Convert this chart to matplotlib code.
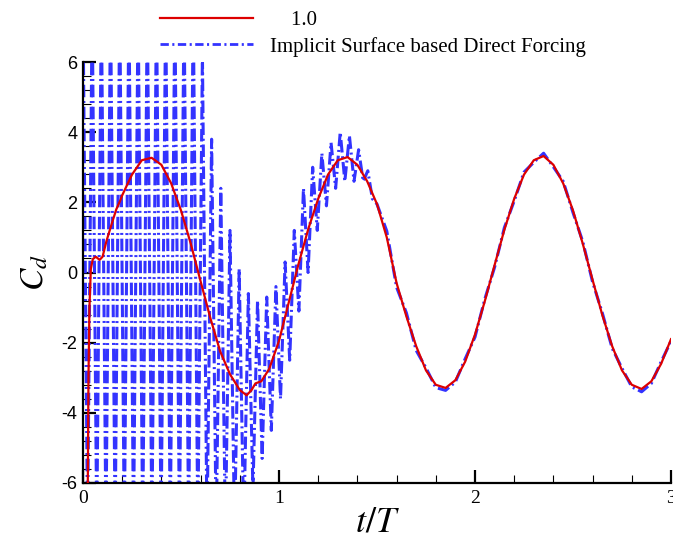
import numpy as np
import matplotlib
matplotlib.use("Agg")
import matplotlib.pyplot as plt
from matplotlib.lines import Line2D
from matplotlib.ticker import MultipleLocator

plt.rcParams['mathtext.fontset'] = 'stix'
plt.rcParams['lines.scale_dashes'] = False
plt.rcParams['axes.unicode_minus'] = False
plt.rcParams['path.simplify'] = False

# ---- data: reference curve "1.0" ----
red_t = [0.02, 0.028, 0.033, 0.04, 0.05, 0.065, 0.085, 0.10, 0.12, 0.15, 0.17, 0.19,
         0.20, 0.25, 0.30, 0.35, 0.40, 0.45, 0.50, 0.55, 0.60, 0.65, 0.70, 0.75, 0.80,
         0.835, 0.86, 0.88, 0.91, 0.95, 1.00, 1.05, 1.10, 1.15, 1.20,
         1.25, 1.30, 1.35, 1.40, 1.45, 1.50, 1.55, 1.60, 1.65, 1.70, 1.75, 1.80,
         1.85, 1.90, 1.95, 2.00, 2.05, 2.10, 2.15, 2.20, 2.25, 2.30, 2.35, 2.40,
         2.45, 2.50, 2.55, 2.60, 2.65, 2.70, 2.75, 2.80, 2.85, 2.90, 2.95, 3.00]
red_v = [-10.0, -3.0, -1.0, 0.1, 0.38, 0.45, 0.36, 0.45, 0.9, 1.45, 1.8, 2.05,
         2.2, 2.79, 3.2, 3.27, 3.07, 2.54, 1.77, 0.82, -0.25, -1.3, -2.25, -2.9, -3.35,
         -3.5, -3.35, -3.16, -3.1, -2.75, -1.95, -0.85, 0.25, 1.25, 2.1,
         2.79, 3.20, 3.29, 3.07, 2.6, 1.95, 1.0, -0.3, -1.25, -2.10, -2.79, -3.20,
         -3.29, -3.07, -2.54, -1.77, -0.82, 0.21, 1.22, 2.10, 2.79, 3.20, 3.32, 3.07,
         2.54, 1.77, 0.82, -0.21, -1.22, -2.10, -2.79, -3.20, -3.32, -3.10, -2.6, -1.9]

# ---- data: Implicit Surface based Direct Forcing ----
# oscillation extremes, t = 0 .. 1.5 (65 samples); early strokes run off the chart
blue_t1 = np.linspace(0.0, 1.5, 65)
blue_v1 = [7.682, -7.368, 7.682, -7.368, 7.682, -7.368, 7.682, -7.368, 7.682, -7.368,
           7.682, -7.368, 7.682, -7.368, 7.682, -7.368, 7.682, -7.368, 7.682, -7.368,
           7.682, -7.368, 7.682, -7.368, 7.682, -7.368,
           6.2, -7.368, 3.8, -7.368, 2.4, -7.368, 1.2, -7.368, 0.1, -7.3, -0.6, -6.2,
           -0.8, -5.3, -0.7, -4.5, -0.4, -3.6, 0.3, -2.5, 1.2, -1.1, 2.4, 0.0, 3.0, 1.2,
           3.4, 1.9, 3.7, 2.4, 4.0, 2.6, 3.9, 2.6, 3.5, 2.6, 2.9, 2.1, 1.95]
# settled part, t = 1.55 .. 3.0
blue_t2 = [1.55, 1.60, 1.65, 1.70, 1.75, 1.80, 1.85, 1.90, 1.95, 2.00, 2.05, 2.10,
           2.15, 2.20, 2.25, 2.30, 2.35, 2.40, 2.45, 2.50, 2.55, 2.60, 2.65, 2.70,
           2.75, 2.80, 2.85, 2.90, 2.95, 3.00]
blue_v2 = [1.18, -0.42, -1.15, -2.22, -2.72, -3.28, -3.36, -3.12, -2.46, -1.84, -0.76, 0.15,
           1.28, 2.04, 2.86, 3.14, 3.40, 3.01, 2.60, 1.71, 0.88, -0.27, -1.16, -2.16,
           -2.73, -3.26, -3.40, -3.16, -2.54, -1.96]

blue_t = list(blue_t1) + blue_t2
blue_v = blue_v1 + blue_v2

label_red = "    1.0"
label_blue = "Implicit Surface based Direct Forcing"

fig = plt.figure(figsize=(6.73, 5.43), dpi=100)
ax = fig.add_axes([0.1233, 0.1105, 0.8737, 0.7753])

blue_col = '#3333ff'
red_col = '#dd0000'
blue_ls = (4.5, (9.0, 2.7, 1.44, 2.7))
ax.plot(blue_t, blue_v, color=blue_col, lw=2.2, linestyle=blue_ls, zorder=2)
ax.plot(red_t, red_v, color=red_col, lw=1.6, zorder=3)

ax.set_xlim(0, 3)
ax.set_ylim(-6, 6)
ax.xaxis.set_major_locator(MultipleLocator(1))
ax.xaxis.set_minor_locator(MultipleLocator(0.2))
ax.yaxis.set_major_locator(MultipleLocator(2))
ax.yaxis.set_minor_locator(MultipleLocator(0.4))
ax.tick_params(which='major', direction='in', length=9.5, width=1.6, top=False, right=False)
ax.tick_params(which='minor', direction='in', length=5.5, width=0.8, top=False, right=False)
for s in ax.spines.values():
    s.set_linewidth(1.6)
ax.spines['top'].set_visible(False)
ax.spines['right'].set_visible(False)

for lab in ax.get_yticklabels():
    lab.set_fontfamily('Liberation Sans')
    lab.set_fontsize(13)
for lab in ax.get_xticklabels():
    lab.set_fontfamily('Liberation Serif')
    lab.set_fontsize(14)
ax.tick_params(axis='y', pad=4)
ax.tick_params(axis='x', pad=5)

ax.set_xlabel('$t/T$', fontsize=26, labelpad=-2)
ax.set_ylabel('$C_d$', fontsize=24, labelpad=8)

handles = [Line2D([], [], color=red_col, lw=1.6),
           Line2D([], [], color=blue_col, lw=2.0, linestyle=(0, (6, 2.5, 1.5, 2.5)))]
fig.legend(handles, [label_red, label_blue], loc='upper left',
           bbox_to_anchor=(0.2377, 0.980), frameon=False,
           prop={'family': 'Liberation Serif', 'size': 15},
           handlelength=4.47, handletextpad=0.82, labelspacing=0.3,
           borderpad=0, borderaxespad=0)

fig.savefig('out.png', dpi=100)
